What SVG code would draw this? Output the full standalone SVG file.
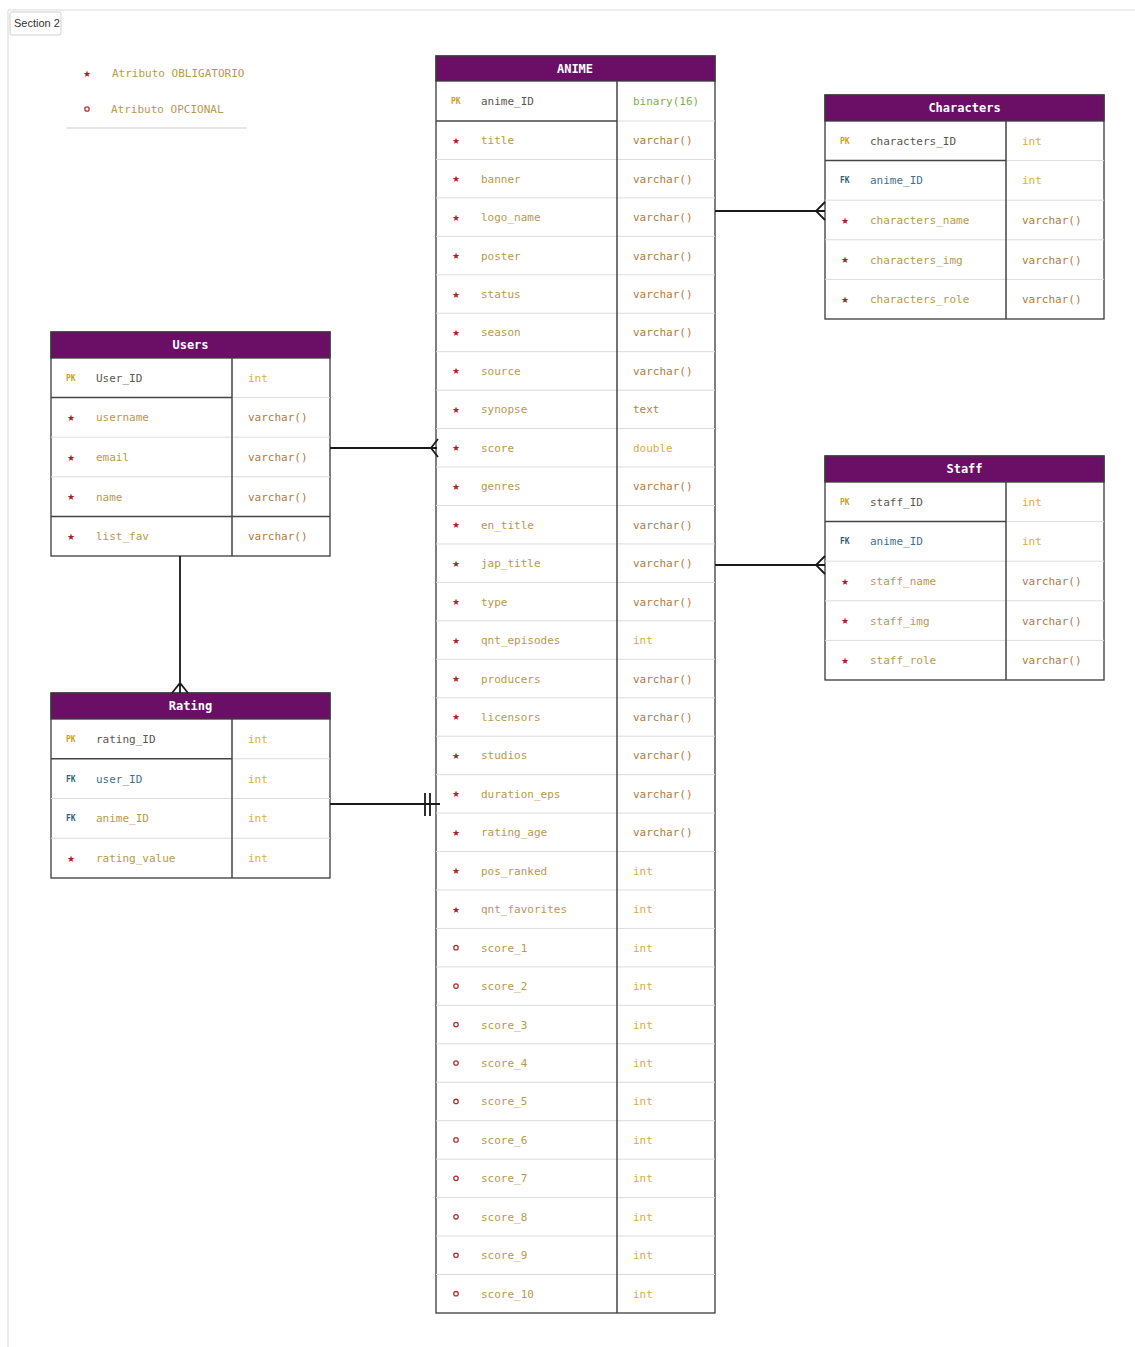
<svg xmlns="http://www.w3.org/2000/svg" width="1135" height="1347" viewBox="0 0 1135 1347">
<style>
.tb{fill:#fff;stroke:#3a3a3a;stroke-width:1.3}
.hd{fill:#6B0F66;stroke:#3a3a3a;stroke-width:1.3}
.rl{stroke:#dcdcdc;stroke-width:1}
.dk{stroke:#444;stroke-width:1.5}
.t{font-family:"DejaVu Sans Mono","Liberation Mono",monospace;font-size:11px}
.h{fill:#fff;font-weight:bold;font-size:12px;text-anchor:middle}
.nm{fill:#B8994C}
.pkn{fill:#5b5650}
.fkn{fill:#44708E}
.vc{fill:#B07B3F}
.in{fill:#D8AE3D}
.bn{fill:#7FAE48}
.tx{fill:#A9853F}
.pk{fill:#C9A11C;font-size:8px;font-weight:bold}
.fk{fill:#2F5F80;font-size:8px;font-weight:bold}
.st{fill:#A5222B;font-family:"DejaVu Sans",sans-serif;font-size:9px;text-anchor:middle}
.op{fill:none;stroke:#B03538;stroke-width:1.3}
.cn{fill:none;stroke:#1a1a1a;stroke-width:1.8}
</style>
<rect x="0" y="0" width="1135" height="1347" fill="#fff"/>
<g id="frame">
<line x1="8" y1="10" x2="1135" y2="10" stroke="#e6e6e6" stroke-width="1.5"/>
<line x1="8" y1="10" x2="8" y2="1347" stroke="#e6e6e6" stroke-width="1.5"/>
<rect x="10" y="12" width="51" height="23" rx="2" fill="#fff" stroke="#cfcfcf"/>
<text x="14" y="27" font-family="Liberation Sans, Arial, sans-serif" font-size="11" fill="#333">Section 2</text>
</g>
<g id="legend">
<text class="st" x="87" y="76.5">★</text>
<text class="t nm" x="112" y="77">Atributo OBLIGATORIO</text>
<circle class="op" cx="87" cy="109" r="2.2"/>
<text class="t nm" x="111" y="113">Atributo OPCIONAL</text>
<line x1="66" y1="128" x2="247" y2="128" stroke="#cfcfcf" stroke-width="1"/>
</g>

<g id="anime">
<rect class="tb" x="436" y="56" width="279" height="1257"/>
<rect class="hd" x="436" y="56" width="279" height="25"/>
<text class="t h" x="575" y="73">ANIME</text>
<g class="rl">
<line x1="617" y1="121" x2="715" y2="121"/>
<line x1="436" y1="159.45" x2="715" y2="159.45"/><line x1="436" y1="197.9" x2="715" y2="197.9"/><line x1="436" y1="236.35" x2="715" y2="236.35"/><line x1="436" y1="274.8" x2="715" y2="274.8"/><line x1="436" y1="313.25" x2="715" y2="313.25"/><line x1="436" y1="351.7" x2="715" y2="351.7"/><line x1="436" y1="390.15" x2="715" y2="390.15"/><line x1="436" y1="428.6" x2="715" y2="428.6"/><line x1="436" y1="467.05" x2="715" y2="467.05"/><line x1="436" y1="505.5" x2="715" y2="505.5"/><line x1="436" y1="543.95" x2="715" y2="543.95"/><line x1="436" y1="582.4" x2="715" y2="582.4"/><line x1="436" y1="620.85" x2="715" y2="620.85"/><line x1="436" y1="659.3" x2="715" y2="659.3"/><line x1="436" y1="697.75" x2="715" y2="697.75"/><line x1="436" y1="736.2" x2="715" y2="736.2"/><line x1="436" y1="774.65" x2="715" y2="774.65"/><line x1="436" y1="813.1" x2="715" y2="813.1"/><line x1="436" y1="851.55" x2="715" y2="851.55"/><line x1="436" y1="890" x2="715" y2="890"/><line x1="436" y1="928.45" x2="715" y2="928.45"/><line x1="436" y1="966.9" x2="715" y2="966.9"/><line x1="436" y1="1005.35" x2="715" y2="1005.35"/><line x1="436" y1="1043.8" x2="715" y2="1043.8"/><line x1="436" y1="1082.25" x2="715" y2="1082.25"/><line x1="436" y1="1120.7" x2="715" y2="1120.7"/><line x1="436" y1="1159.15" x2="715" y2="1159.15"/><line x1="436" y1="1197.6" x2="715" y2="1197.6"/><line x1="436" y1="1236.05" x2="715" y2="1236.05"/><line x1="436" y1="1274.5" x2="715" y2="1274.5"/>
</g>
<line class="dk" x1="436" y1="121" x2="617" y2="121"/>
<line class="dk" x1="617" y1="81" x2="617" y2="1313"/>
<g transform="translate(0,101)"><text class="t pk" x="451" y="3">PK</text><text class="t pkn" x="481" y="4">anime_ID</text><text class="t bn" x="633" y="4">binary(16)</text></g>
<g transform="translate(0,140.2)"><text class="st" x="456" y="3.5">★</text><text class="t nm" x="481" y="4">title</text><text class="t vc" x="633" y="4">varchar()</text></g>
<g transform="translate(0,178.65)"><text class="st" x="456" y="3.5">★</text><text class="t nm" x="481" y="4">banner</text><text class="t vc" x="633" y="4">varchar()</text></g>
<g transform="translate(0,217.1)"><text class="st" x="456" y="3.5">★</text><text class="t nm" x="481" y="4">logo_name</text><text class="t vc" x="633" y="4">varchar()</text></g>
<g transform="translate(0,255.55)"><text class="st" x="456" y="3.5">★</text><text class="t nm" x="481" y="4">poster</text><text class="t vc" x="633" y="4">varchar()</text></g>
<g transform="translate(0,294)"><text class="st" x="456" y="3.5">★</text><text class="t nm" x="481" y="4">status</text><text class="t vc" x="633" y="4">varchar()</text></g>
<g transform="translate(0,332.45)"><text class="st" x="456" y="3.5">★</text><text class="t nm" x="481" y="4">season</text><text class="t vc" x="633" y="4">varchar()</text></g>
<g transform="translate(0,370.9)"><text class="st" x="456" y="3.5">★</text><text class="t nm" x="481" y="4">source</text><text class="t vc" x="633" y="4">varchar()</text></g>
<g transform="translate(0,409.35)"><text class="st" x="456" y="3.5">★</text><text class="t nm" x="481" y="4">synopse</text><text class="t tx" x="633" y="4">text</text></g>
<g transform="translate(0,447.8)"><text class="st" x="456" y="3.5">★</text><text class="t nm" x="481" y="4">score</text><text class="t in" x="633" y="4">double</text></g>
<g transform="translate(0,486.25)"><text class="st" x="456" y="3.5">★</text><text class="t nm" x="481" y="4">genres</text><text class="t vc" x="633" y="4">varchar()</text></g>
<g transform="translate(0,524.7)"><text class="st" x="456" y="3.5">★</text><text class="t nm" x="481" y="4">en_title</text><text class="t vc" x="633" y="4">varchar()</text></g>
<g transform="translate(0,563.15)"><text class="st" x="456" y="3.5">★</text><text class="t nm" x="481" y="4">jap_title</text><text class="t vc" x="633" y="4">varchar()</text></g>
<g transform="translate(0,601.6)"><text class="st" x="456" y="3.5">★</text><text class="t nm" x="481" y="4">type</text><text class="t vc" x="633" y="4">varchar()</text></g>
<g transform="translate(0,640.05)"><text class="st" x="456" y="3.5">★</text><text class="t nm" x="481" y="4">qnt_episodes</text><text class="t in" x="633" y="4">int</text></g>
<g transform="translate(0,678.5)"><text class="st" x="456" y="3.5">★</text><text class="t nm" x="481" y="4">producers</text><text class="t vc" x="633" y="4">varchar()</text></g>
<g transform="translate(0,716.95)"><text class="st" x="456" y="3.5">★</text><text class="t nm" x="481" y="4">licensors</text><text class="t vc" x="633" y="4">varchar()</text></g>
<g transform="translate(0,755.4)"><text class="st" x="456" y="3.5">★</text><text class="t nm" x="481" y="4">studios</text><text class="t vc" x="633" y="4">varchar()</text></g>
<g transform="translate(0,793.85)"><text class="st" x="456" y="3.5">★</text><text class="t nm" x="481" y="4">duration_eps</text><text class="t vc" x="633" y="4">varchar()</text></g>
<g transform="translate(0,832.3)"><text class="st" x="456" y="3.5">★</text><text class="t nm" x="481" y="4">rating_age</text><text class="t vc" x="633" y="4">varchar()</text></g>
<g transform="translate(0,870.75)"><text class="st" x="456" y="3.5">★</text><text class="t nm" x="481" y="4">pos_ranked</text><text class="t in" x="633" y="4">int</text></g>
<g transform="translate(0,909.2)"><text class="st" x="456" y="3.5">★</text><text class="t nm" x="481" y="4">qnt_favorites</text><text class="t in" x="633" y="4">int</text></g>
<g transform="translate(0,947.65)"><circle class="op" cx="456" cy="0" r="2.2"/><text class="t nm" x="481" y="4">score_1</text><text class="t in" x="633" y="4">int</text></g>
<g transform="translate(0,986.1)"><circle class="op" cx="456" cy="0" r="2.2"/><text class="t nm" x="481" y="4">score_2</text><text class="t in" x="633" y="4">int</text></g>
<g transform="translate(0,1024.55)"><circle class="op" cx="456" cy="0" r="2.2"/><text class="t nm" x="481" y="4">score_3</text><text class="t in" x="633" y="4">int</text></g>
<g transform="translate(0,1063)"><circle class="op" cx="456" cy="0" r="2.2"/><text class="t nm" x="481" y="4">score_4</text><text class="t in" x="633" y="4">int</text></g>
<g transform="translate(0,1101.45)"><circle class="op" cx="456" cy="0" r="2.2"/><text class="t nm" x="481" y="4">score_5</text><text class="t in" x="633" y="4">int</text></g>
<g transform="translate(0,1139.9)"><circle class="op" cx="456" cy="0" r="2.2"/><text class="t nm" x="481" y="4">score_6</text><text class="t in" x="633" y="4">int</text></g>
<g transform="translate(0,1178.35)"><circle class="op" cx="456" cy="0" r="2.2"/><text class="t nm" x="481" y="4">score_7</text><text class="t in" x="633" y="4">int</text></g>
<g transform="translate(0,1216.8)"><circle class="op" cx="456" cy="0" r="2.2"/><text class="t nm" x="481" y="4">score_8</text><text class="t in" x="633" y="4">int</text></g>
<g transform="translate(0,1255.25)"><circle class="op" cx="456" cy="0" r="2.2"/><text class="t nm" x="481" y="4">score_9</text><text class="t in" x="633" y="4">int</text></g>
<g transform="translate(0,1293.7)"><circle class="op" cx="456" cy="0" r="2.2"/><text class="t nm" x="481" y="4">score_10</text><text class="t in" x="633" y="4">int</text></g>
</g>

<g id="characters">
<rect class="tb" x="825" y="95" width="279" height="224"/>
<rect class="hd" x="825" y="95" width="279" height="26"/>
<text class="t h" x="964.5" y="112">Characters</text>
<g class="rl">
<line x1="1006" y1="160.6" x2="1104" y2="160.6"/>
<line x1="825" y1="200.2" x2="1104" y2="200.2"/><line x1="825" y1="239.8" x2="1104" y2="239.8"/><line x1="825" y1="279.4" x2="1104" y2="279.4"/>
</g>
<line class="dk" x1="825" y1="160.6" x2="1006" y2="160.6"/>
<line class="dk" x1="1006" y1="121" x2="1006" y2="319"/>
<g transform="translate(0,140.8)"><text class="t pk" x="840" y="3">PK</text><text class="t pkn" x="870" y="4">characters_ID</text><text class="t in" x="1022" y="4">int</text></g>
<g transform="translate(0,180.4)"><text class="t fk" x="840" y="3">FK</text><text class="t fkn" x="870" y="4">anime_ID</text><text class="t in" x="1022" y="4">int</text></g>
<g transform="translate(0,220)"><text class="st" x="845" y="3.5">★</text><text class="t nm" x="870" y="4">characters_name</text><text class="t vc" x="1022" y="4">varchar()</text></g>
<g transform="translate(0,259.6)"><text class="st" x="845" y="3.5">★</text><text class="t nm" x="870" y="4">characters_img</text><text class="t vc" x="1022" y="4">varchar()</text></g>
<g transform="translate(0,299.2)"><text class="st" x="845" y="3.5">★</text><text class="t nm" x="870" y="4">characters_role</text><text class="t vc" x="1022" y="4">varchar()</text></g>
</g>

<g id="users">
<rect class="tb" x="51" y="332" width="279" height="224"/>
<rect class="hd" x="51" y="332" width="279" height="26"/>
<text class="t h" x="190.5" y="349">Users</text>
<g class="rl">
<line x1="232" y1="397.6" x2="330" y2="397.6"/>
<line x1="51" y1="437.2" x2="330" y2="437.2"/><line x1="51" y1="476.8" x2="330" y2="476.8"/>
</g>
<line class="dk" x1="51" y1="397.6" x2="232" y2="397.6"/>
<line class="dk" x1="51" y1="516.4" x2="330" y2="516.4"/>
<line class="dk" x1="232" y1="358" x2="232" y2="556"/>
<g transform="translate(0,377.8)"><text class="t pk" x="66" y="3">PK</text><text class="t pkn" x="96" y="4">User_ID</text><text class="t in" x="248" y="4">int</text></g>
<g transform="translate(0,417.4)"><text class="st" x="71" y="3.5">★</text><text class="t nm" x="96" y="4">username</text><text class="t vc" x="248" y="4">varchar()</text></g>
<g transform="translate(0,457)"><text class="st" x="71" y="3.5">★</text><text class="t nm" x="96" y="4">email</text><text class="t vc" x="248" y="4">varchar()</text></g>
<g transform="translate(0,496.6)"><text class="st" x="71" y="3.5">★</text><text class="t nm" x="96" y="4">name</text><text class="t vc" x="248" y="4">varchar()</text></g>
<g transform="translate(0,536.2)"><text class="st" x="71" y="3.5">★</text><text class="t nm" x="96" y="4">list_fav</text><text class="t vc" x="248" y="4">varchar()</text></g>
</g>

<g id="rating">
<rect class="tb" x="51" y="693" width="279" height="185"/>
<rect class="hd" x="51" y="693" width="279" height="26"/>
<text class="t h" x="190.5" y="710">Rating</text>
<g class="rl">
<line x1="232" y1="758.75" x2="330" y2="758.75"/>
<line x1="51" y1="798.5" x2="330" y2="798.5"/><line x1="51" y1="838.25" x2="330" y2="838.25"/>
</g>
<line class="dk" x1="51" y1="758.75" x2="232" y2="758.75"/>
<line class="dk" x1="232" y1="719" x2="232" y2="878"/>
<g transform="translate(0,738.9)"><text class="t pk" x="66" y="3">PK</text><text class="t pkn" x="96" y="4">rating_ID</text><text class="t in" x="248" y="4">int</text></g>
<g transform="translate(0,778.6)"><text class="t fk" x="66" y="3">FK</text><text class="t fkn" x="96" y="4">user_ID</text><text class="t in" x="248" y="4">int</text></g>
<g transform="translate(0,818.4)"><text class="t fk" x="66" y="3">FK</text><text class="t nm" x="96" y="4">anime_ID</text><text class="t in" x="248" y="4">int</text></g>
<g transform="translate(0,858.1)"><text class="st" x="71" y="3.5">★</text><text class="t nm" x="96" y="4">rating_value</text><text class="t in" x="248" y="4">int</text></g>
</g>

<g id="staff">
<rect class="tb" x="825" y="456" width="279" height="224"/>
<rect class="hd" x="825" y="456" width="279" height="26"/>
<text class="t h" x="964.5" y="473">Staff</text>
<g class="rl">
<line x1="1006" y1="521.6" x2="1104" y2="521.6"/>
<line x1="825" y1="561.2" x2="1104" y2="561.2"/><line x1="825" y1="600.8" x2="1104" y2="600.8"/><line x1="825" y1="640.4" x2="1104" y2="640.4"/>
</g>
<line class="dk" x1="825" y1="521.6" x2="1006" y2="521.6"/>
<line class="dk" x1="1006" y1="482" x2="1006" y2="680"/>
<g transform="translate(0,501.8)"><text class="t pk" x="840" y="3">PK</text><text class="t pkn" x="870" y="4">staff_ID</text><text class="t in" x="1022" y="4">int</text></g>
<g transform="translate(0,541.4)"><text class="t fk" x="840" y="3">FK</text><text class="t fkn" x="870" y="4">anime_ID</text><text class="t in" x="1022" y="4">int</text></g>
<g transform="translate(0,581)"><text class="st" x="845" y="3.5">★</text><text class="t nm" x="870" y="4">staff_name</text><text class="t vc" x="1022" y="4">varchar()</text></g>
<g transform="translate(0,620.6)"><text class="st" x="845" y="3.5">★</text><text class="t nm" x="870" y="4">staff_img</text><text class="t vc" x="1022" y="4">varchar()</text></g>
<g transform="translate(0,660.2)"><text class="st" x="845" y="3.5">★</text><text class="t nm" x="870" y="4">staff_role</text><text class="t vc" x="1022" y="4">varchar()</text></g>
</g>

<g id="connectors">
<path class="cn" d="M715 211 H825 M825 202 L816 211 L825 220"/>
<path class="cn" d="M330 448 H437 M438 439 L431 448 L438 457"/>
<path class="cn" d="M715 565 H825 M825 556 L816 565 L825 574"/>
<path class="cn" d="M180 556 V693 M172 693 L180 683 L188 693"/>
<path class="cn" d="M330 804 H440 M425 793 V816 M430 793 V816"/>
</g>
</svg>
